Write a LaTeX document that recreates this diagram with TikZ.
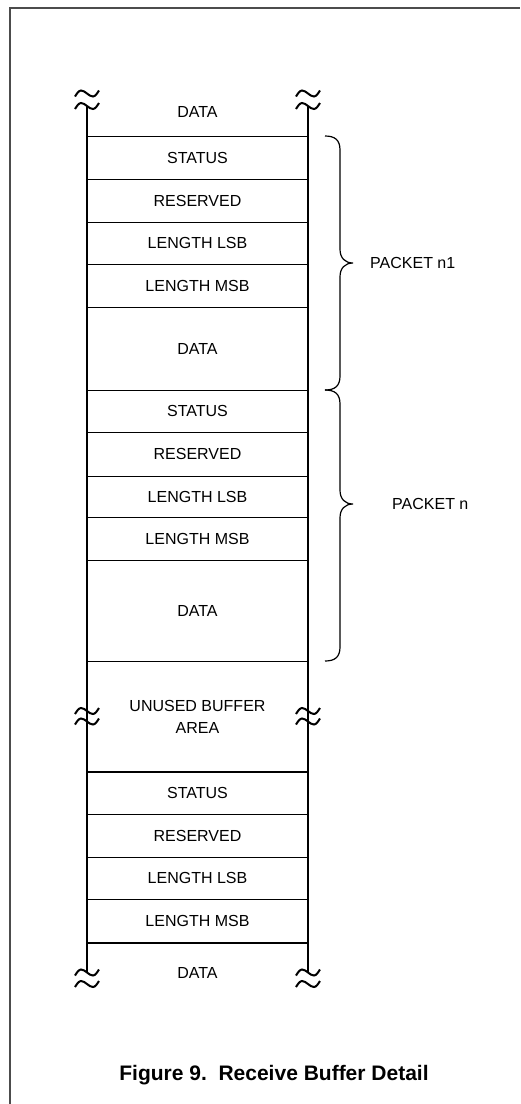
\documentclass[tikz,border=0pt]{standalone}
\usepackage{fontspec}
\setmainfont{Liberation Sans}
\begin{document}
\begin{tikzpicture}[x=1pt,y=-1pt,
    celltext/.style={font=\fontsize{16}{22}\selectfont,align=center,inner sep=0pt},
    wall/.style={line width=2.2pt},
    rowline/.style={line width=1pt},
    squiggle/.style={line width=2pt},
    bracepath/.style={line width=1.2pt}]
    \useasboundingbox (0,0) rectangle (520,1104);

    % Draw the frame
    \draw[black!70,line width=1.5pt] (10,1104) -- (10,8) -- (520,8);

    % Draw the buffer walls
    \draw[wall] (87,106) -- (87,972);
    \draw[wall] (308,106) -- (308,972);

    % Draw the row borders
    \foreach \y in {136,179,222,264,307,390,432,476,517,560,661,814,857,899}
        \draw[rowline] (87,\y) -- (308,\y);
    \draw[line width=1.6pt] (87,772) -- (308,772);
    \draw[wall] (87,943) -- (308,943);

    % Draw the break marks
    \foreach \x in {87,308}
        \foreach \y in {93.5,106,711,721.5,972.5,984}
            \draw[squiggle] (\x-12,\y+3) sin (\x-6,\y-3) cos (\x,\y) sin (\x+6,\y+3) cos (\x+12,\y-3);

    % Label the rows
    \foreach \y/\t [count=\i] in {112/DATA,157.5/STATUS,200.5/RESERVED,243/LENGTH LSB,285.5/LENGTH MSB,
        348.5/DATA,411/STATUS,454/RESERVED,496.5/LENGTH LSB,538.5/LENGTH MSB,610.5/DATA,
        793/STATUS,835.5/RESERVED,878/LENGTH LSB,921/LENGTH MSB,973/DATA}
        \node[celltext] (cell\i) at (197.5,\y) {\t};
    \node[celltext] (unused) at (197.5,716.5) {UNUSED BUFFER\\AREA};

    % Draw the packet braces
    \draw[bracepath] (325,136) .. controls (335,136) and (340,140) .. (340,150) -- (340,249)
        .. controls (340,258) and (345,263) .. (353,263)
        .. controls (345,263) and (340,268) .. (340,277) -- (340,376)
        .. controls (340,386) and (335,390) .. (325,390);
    \node[celltext,anchor=west] (pktone) at (370,263) {PACKET n1};

    \draw[bracepath] (325,390) .. controls (335,390) and (340,394) .. (340,404) -- (340,490)
        .. controls (340,499) and (345,504) .. (353,504)
        .. controls (345,504) and (340,509) .. (340,518) -- (340,647)
        .. controls (340,657) and (335,661) .. (325,661);
    \node[celltext,anchor=west] (pktn) at (392,504) {PACKET n};

    % Caption
    \node[anchor=base,inner sep=0pt,font=\fontsize{21}{25}\selectfont\bfseries] (caption) at (274,1080) {Figure 9.~~Receive Buffer Detail};
\end{tikzpicture}
\end{document}
